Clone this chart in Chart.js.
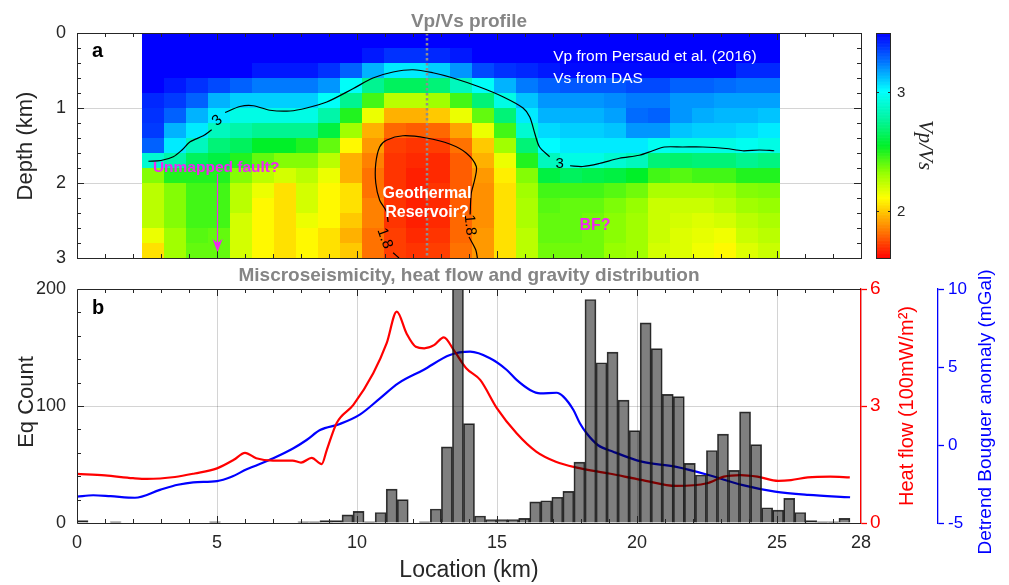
<!DOCTYPE html>
<html>
<head>
<meta charset="utf-8">
<script src="https://cdn.jsdelivr.net/npm/chart.js"></script>
<style>
body { margin: 0; background: #fff; }
#wrap { position: relative; width: 1009px; height: 585px; }
canvas { position: absolute; left: 0; top: 0; }
</style>
</head>
<body>
<div id="wrap">
<canvas id="perfil" width="1009" height="585"></canvas>
<canvas id="sismos" width="1009" height="585"></canvas>
</div>
<script>
// ---- panel a: Vp/Vs profile ----
const vpvsLoc = [2.71, 3.50, 4.29, 5.07, 5.86, 6.64, 7.43, 8.22, 9.00, 9.79, 10.58, 11.36, 12.15, 12.93, 13.72,
  14.51, 15.29, 16.08, 16.86, 17.65, 18.44, 19.22, 20.01, 20.79, 21.58, 22.37, 23.15, 23.94, 24.72]
const vpvsDepth = [0.1, 0.3, 0.5, 0.7, 0.9, 1.1, 1.3, 1.5, 1.7, 1.9, 2.1, 2.3, 2.5, 2.7, 2.9]
// one profile (top to bottom) per location
const vpvsColumns = [
  [3.5, 3.5, 3.5, 3.5, 3.42, 3.4, 3.38, 3.3, 2.9, 2.35, 2.25, 2.25, 2.25, 2.15, 2.05],
  [3.5, 3.5, 3.5, 3.45, 3.38, 3.3, 3.15, 3.05, 2.8, 2.5, 2.35, 2.35, 2.35, 2.3, 2.3],
  [3.5, 3.5, 3.5, 3.4, 3.3, 3.15, 3.05, 2.85, 2.65, 2.5, 2.45, 2.45, 2.45, 2.42, 2.4],
  [3.5, 3.5, 3.5, 3.35, 3.15, 3.05, 2.85, 2.7, 2.6, 2.5, 2.45, 2.45, 2.45, 2.4, 2.4],
  [3.5, 3.5, 3.5, 3.3, 3.1, 2.95, 2.8, 2.65, 2.5, 2.35, 2.25, 2.25, 2.2, 2.2, 2.2],
  [3.5, 3.5, 3.45, 3.25, 3.1, 2.95, 2.75, 2.55, 2.4, 2.25, 2.15, 2.1, 2.1, 2.1, 2.1],
  [3.5, 3.5, 3.45, 3.25, 3.1, 2.95, 2.75, 2.55, 2.35, 2.2, 2.05, 2.05, 2.05, 2.05, 2.05],
  [3.5, 3.5, 3.45, 3.25, 3.1, 2.95, 2.75, 2.5, 2.35, 2.25, 2.2, 2.2, 2.15, 2.1, 2.1],
  [3.5, 3.5, 3.4, 3.2, 3.0, 2.8, 2.6, 2.4, 2.25, 2.15, 2.1, 2.1, 2.1, 2.05, 2.05],
  [3.5, 3.5, 3.3, 3.0, 2.75, 2.5, 2.3, 2.1, 1.95, 1.95, 2.05, 2.05, 2.0, 1.95, 2.0],
  [3.5, 3.45, 3.15, 2.75, 2.45, 2.15, 1.95, 1.9, 1.85, 1.82, 1.82, 1.85, 1.85, 1.82, 1.82],
  [3.5, 3.4, 3.05, 2.65, 2.25, 1.95, 1.8, 1.72, 1.7, 1.7, 1.7, 1.7, 1.7, 1.72, 1.72],
  [3.5, 3.4, 3.05, 2.65, 2.25, 1.95, 1.78, 1.7, 1.68, 1.66, 1.66, 1.66, 1.66, 1.68, 1.7],
  [3.5, 3.42, 3.1, 2.7, 2.3, 2.0, 1.8, 1.72, 1.68, 1.68, 1.7, 1.68, 1.68, 1.7, 1.72],
  [3.5, 3.45, 3.2, 2.85, 2.45, 2.15, 1.92, 1.82, 1.78, 1.78, 1.78, 1.78, 1.8, 1.8, 1.82],
  [3.5, 3.5, 3.35, 3.0, 2.7, 2.4, 2.15, 2.0, 1.95, 1.9, 1.88, 1.88, 1.88, 1.9, 1.9],
  [3.5, 3.5, 3.4, 3.15, 2.95, 2.7, 2.45, 2.3, 2.15, 2.08, 2.05, 2.05, 2.05, 2.05, 2.05],
  [3.5, 3.5, 3.42, 3.25, 3.12, 3.05, 2.9, 2.7, 2.5, 2.35, 2.3, 2.28, 2.28, 2.25, 2.25],
  [3.5, 3.5, 3.45, 3.3, 3.2, 3.15, 3.08, 3.02, 2.85, 2.6, 2.45, 2.42, 2.4, 2.4, 2.38],
  [3.5, 3.5, 3.48, 3.32, 3.2, 3.15, 3.1, 3.05, 2.95, 2.65, 2.45, 2.4, 2.4, 2.4, 2.38],
  [3.5, 3.5, 3.48, 3.32, 3.2, 3.15, 3.1, 3.05, 2.95, 2.62, 2.45, 2.4, 2.38, 2.38, 2.38],
  [3.5, 3.5, 3.48, 3.32, 3.22, 3.18, 3.12, 3.05, 2.9, 2.6, 2.42, 2.36, 2.34, 2.34, 2.32],
  [3.5, 3.5, 3.48, 3.35, 3.25, 3.28, 3.2, 3.05, 2.85, 2.55, 2.38, 2.32, 2.3, 2.3, 2.3],
  [3.5, 3.5, 3.48, 3.35, 3.25, 3.3, 3.2, 2.98, 2.7, 2.45, 2.28, 2.22, 2.22, 2.22, 2.2],
  [3.5, 3.5, 3.48, 3.3, 3.2, 3.2, 3.12, 2.95, 2.68, 2.42, 2.28, 2.22, 2.2, 2.18, 2.18],
  [3.5, 3.5, 3.48, 3.3, 3.2, 3.16, 3.1, 2.95, 2.7, 2.45, 2.28, 2.22, 2.18, 2.16, 2.14],
  [3.5, 3.5, 3.48, 3.28, 3.18, 3.14, 3.1, 2.95, 2.7, 2.45, 2.3, 2.25, 2.2, 2.14, 2.1],
  [3.5, 3.5, 3.42, 3.26, 3.18, 3.14, 3.08, 2.98, 2.75, 2.5, 2.35, 2.3, 2.25, 2.22, 2.18],
  [3.5, 3.5, 3.42, 3.26, 3.18, 3.12, 3.05, 2.95, 2.72, 2.5, 2.36, 2.32, 2.28, 2.25, 2.22]
]
const vpvsMin = 1.6
const vpvsMax = 3.5
const vpvsTicks = [2, 3]

// contour lines (null = gap for the label)
const contour3Loc = [2.55, 3.0, 3.44, 3.75, 4.04, 4.51, 4.81, 5.0, 5.29, 5.82, 6.3, 6.89, 7.61, 8.2, 8.92, 9.87,
  10.57, 11.29, 12.0, 12.71, 13.43, 14.38, 15.21, 15.93, 16.17, 16.35, 16.52, 16.88, 17.24, 17.61, 18.06,
  18.65, 19.37, 20.08, 20.56, 20.98, 21.63, 22.35, 23.18, 23.77, 24.37, 24.9]
const contour3Depth = [1.71, 1.70, 1.65, 1.56, 1.45, 1.37, 1.29, null, 1.06, 0.98, 0.97, 1.03, 1.04, 1.0, 0.92, 0.74,
  0.60, 0.52, 0.49, 0.53, 0.60, 0.72, 0.85, 1.0, 1.12, 1.34, 1.52, 1.65, null, 1.77, 1.78,
  1.74, 1.67, 1.63, 1.57, 1.52, 1.52, 1.52, 1.54, 1.57, 1.56, 1.57]
const contour18Loc = [11.5, 11.29, 11.0, 11.11, 11.05, 10.81, 10.67, 10.67, 10.81, 11.05, 11.64, 12.48, 13.31,
  13.9, 14.26, 14.2, 14.08, 14.04, 14.03, 14.0, 14.24, 14.3]
const contour18Depth = [3.0, 2.93, null, 2.52, 2.38, 2.23, 2.0, 1.74, 1.52, 1.43, 1.37, 1.40, 1.48,
  1.60, 1.78, 1.96, 2.14, 2.42, null, 2.72, 2.89, 3.0]
const contourLabels = [
  { text: '3', loc: 5.01, depth: 1.17, rot: -40 },
  { text: '3', loc: 17.24, depth: 1.74, rot: 0 },
  { text: '1.8', loc: 10.99, depth: 2.74, rot: 70 },
  { text: '1.8', loc: 14.03, depth: 2.56, rot: 85 }
]
const wellLoc = 12.5
const faultLoc = 5.0
const faultTop = 1.88
const faultBottom = 2.92

// ---- panel b ----
const locTicks = [0, 5, 10, 15, 20, 25, 28]
const depthTicks = [0, 1, 2, 3]
const countTicks = [0, 100, 200]
const heatTicks = [0, 3, 6]
const gravTicks = [-5, 0, 5, 10]

const eqBinWidth = 28 / 71
const eqCounts = [2, 0, 0, 1, 0, 0, 0, 0, 0, 0, 0, 0, 1, 0, 0, 0, 0, 0, 0, 0, 1, 1, 2,
  2, 7, 10, 1, 9, 29, 20, 0, 1, 12, 65, 215, 85, 6, 3, 3, 3, 4, 18, 19, 22, 27,
  52, 191, 137, 146, 105, 79, 171, 149, 110, 108, 51, 41, 62, 76, 45, 95, 67, 13, 11, 21, 9, 2, 1, 1, 4, 0]

const hfLoc = [0, 1, 2, 2.5, 3.5, 4.2, 5.0, 5.6, 6.0, 6.4, 7.0, 7.7, 8.0, 8.38, 8.74, 8.92, 9.27, 9.87, 10.58, 11.06,
  11.42, 11.77, 12.1, 12.4, 12.75, 13.1, 13.45, 13.9, 14.4, 15.0, 15.7, 16.4, 17.1, 17.85, 19.0, 20.2, 21.4, 22.5, 23.1, 23.7,
  24.3, 25.05, 25.5, 26.1, 26.9, 27.6]
const hfVal = [1.26, 1.22, 1.15, 1.13, 1.18, 1.27, 1.40, 1.62, 1.80, 1.66, 1.60, 1.60, 1.55, 1.67, 1.51, 1.87, 2.56, 3.03, 3.84, 4.61,
  5.42, 4.86, 4.52, 4.48, 4.56, 4.76, 4.44, 3.97, 3.67, 2.94, 2.30, 1.83, 1.57, 1.42, 1.27, 1.10, 0.95, 1.02, 1.19, 1.23,
  1.19, 1.08, 1.10, 1.17, 1.19, 1.17]

const gLoc = [0, 0.58, 1.2, 2.07, 2.96, 3.6, 4.15, 5.0, 5.5, 6.06, 7.01, 7.73, 8.2, 8.68, 9.39, 10.1, 10.82, 11.47, 12.37, 13.32,
  14.04, 14.75, 15.35, 15.7, 16.18, 16.54, 17.13, 17.37, 17.73, 17.96, 18.2, 18.6, 19.15, 20.17, 21.36, 22.55, 23.74, 24.93, 26.12, 27.61]
const gVal = [-3.31, -3.22, -3.28, -3.38, -2.88, -2.55, -2.39, -2.31, -2.05, -1.56, -0.85, -0.21, 0.32, 0.96, 1.35, 1.95, 2.99, 3.95, 4.81, 5.77,
  5.98, 5.56, 4.81, 4.17, 3.53, 3.31, 3.35, 3.1, 2.24, 1.39, 0.75, 0.0, -0.43, -1.07, -1.39, -1.92, -2.56, -2.99, -3.2, -3.35]

// ---- helpers ----
Chart.defaults.font.family = "'Liberation Sans', Arial, sans-serif"
Chart.defaults.font.size = 18
Chart.defaults.color = '#262626'

const jetStops = [[0, 255, 0, 0], [0.13, 255, 128, 0], [0.27, 255, 255, 0], [0.38, 150, 255, 0], [0.5, 0, 240, 40],
  [0.62, 0, 245, 160], [0.745, 0, 255, 255], [0.87, 0, 120, 255], [1, 0, 0, 255]]

function colorVpVs(v) {
  let t = (v - vpvsMin) / (vpvsMax - vpvsMin)
  t = Math.max(0, Math.min(1, t))
  for (let i = 1; i < jetStops.length; i++) {
    if (t <= jetStops[i][0]) {
      const a = jetStops[i - 1], b = jetStops[i]
      const f = (t - a[0]) / (b[0] - a[0])
      const c = [1, 2, 3].map(k => Math.round(a[k] + (b[k] - a[k]) * f))
      return `rgb(${c[0]},${c[1]},${c[2]})`
    }
  }
  return 'rgb(0,0,255)'
}

function texto(ctx, str, x, y, font, color, align, base, rot) {
  ctx.save()
  ctx.translate(x, y)
  if (rot) ctx.rotate(rot * Math.PI / 180)
  ctx.font = font
  ctx.fillStyle = color
  ctx.textAlign = align || 'center'
  ctx.textBaseline = base || 'alphabetic'
  ctx.fillText(str, 0, 0)
  ctx.restore()
}

function linea(ctx, x0, y0, x1, y1) {
  ctx.beginPath()
  ctx.moveTo(x0, y0)
  ctx.lineTo(x1, y1)
  ctx.stroke()
}

function ticksLoc(ctx, x, a) {
  for (let v = 1; v < 28; v++) {
    const p = Math.round(x.getPixelForValue(v)) + 0.5
    const len = v % 5 === 0 ? 7 : 4
    linea(ctx, p, a.bottom, p, a.bottom - len)
    linea(ctx, p, a.top, p, a.top + len)
  }
}

function fixedTicks(list) {
  return s => { s.ticks = list.map(v => ({ value: v })) }
}

const gridColor = 'rgba(0,0,0,0.17)'
const magenta = '#f028f0'
const grayTitle = '#858585'

// ---- chart a ----
const heatmap = {
  id: 'heatmap',
  beforeDatasetsDraw(chart) {
    const { ctx, chartArea: a, scales: { x, y } } = chart
    ctx.save()
    ctx.beginPath()
    ctx.rect(a.left, a.top, a.width, a.height)
    ctx.clip()
    const n = vpvsLoc.length, m = vpvsDepth.length
    for (let i = 0; i < n; i++) {
      const hl = i > 0 ? (vpvsLoc[i] - vpvsLoc[i - 1]) / 2 : (vpvsLoc[1] - vpvsLoc[0]) / 2
      const hr = i < n - 1 ? (vpvsLoc[i + 1] - vpvsLoc[i]) / 2 : hl
      const x0 = Math.round(x.getPixelForValue(vpvsLoc[i] - hl))
      const x1 = Math.round(x.getPixelForValue(vpvsLoc[i] + hr))
      for (let j = 0; j < m; j++) {
        const ht = j > 0 ? (vpvsDepth[j] - vpvsDepth[j - 1]) / 2 : (vpvsDepth[1] - vpvsDepth[0]) / 2
        const hb = j < m - 1 ? (vpvsDepth[j + 1] - vpvsDepth[j]) / 2 : ht
        const y0 = Math.round(y.getPixelForValue(vpvsDepth[j] - ht))
        const y1 = Math.round(y.getPixelForValue(vpvsDepth[j] + hb))
        ctx.fillStyle = colorVpVs(vpvsColumns[i][j])
        ctx.fillRect(x0, Math.min(y0, y1), x1 - x0, Math.abs(y1 - y0))
      }
    }
    ctx.restore()
  }
}

const perfilDeco = {
  id: 'perfilDeco',
  afterDraw(chart) {
    const { ctx, chartArea: a, scales: { x, y, cb } } = chart
    ctx.save()
    // colorbar
    const cbL = 876, cbR = 891
    for (let v = vpvsMin; v < vpvsMax - 0.001; v += 0.005) {
      const y0 = cb.getPixelForValue(v + 0.005), y1 = cb.getPixelForValue(v)
      ctx.fillStyle = colorVpVs(v + 0.0025)
      ctx.fillRect(cbL, y0, cbR - cbL, y1 - y0 + 0.6)
    }
    ctx.strokeStyle = '#262626'
    ctx.lineWidth = 1
    ctx.strokeRect(cbL + 0.5, Math.round(a.top) + 0.5, cbR - cbL - 1, Math.round(a.height))
    vpvsTicks.forEach(v => {
      const p = Math.round(cb.getPixelForValue(v)) + 0.5
      linea(ctx, cbL, p, cbL + 3, p)
      linea(ctx, cbR, p, cbR - 3, p)
      texto(ctx, String(v), 897, p, '15px "Liberation Sans"', '#262626', 'left', 'middle')
    })
    // box and ticks
    ctx.strokeRect(Math.round(a.left) + 0.5, Math.round(a.top) + 0.5, Math.round(a.width), Math.round(a.height))
    ticksLoc(ctx, x, a)
    for (let k = 1; k < 15; k++) {
      const p = Math.round(y.getPixelForValue(k * 0.2)) + 0.5
      const len = k % 5 === 0 ? 7 : 4
      linea(ctx, a.left, p, a.left + len, p)
      linea(ctx, a.right, p, a.right - len, p)
    }
    // fault arrow
    const fx = Math.round(x.getPixelForValue(faultLoc)) + 0.5
    const fy0 = y.getPixelForValue(faultTop), fy1 = y.getPixelForValue(faultBottom)
    ctx.strokeStyle = magenta
    ctx.fillStyle = magenta
    ctx.lineWidth = 1.2
    linea(ctx, fx, fy0, fx, fy1 - 8)
    ctx.beginPath()
    ctx.moveTo(fx, fy1)
    ctx.lineTo(fx - 5, fy1 - 13)
    ctx.lineTo(fx, fy1 - 9)
    ctx.lineTo(fx + 5, fy1 - 13)
    ctx.closePath()
    ctx.fill()
    // contour labels
    contourLabels.forEach(l => {
      texto(ctx, l.text, x.getPixelForValue(l.loc), y.getPixelForValue(l.depth), '15px "Liberation Sans"', '#000', 'center', 'middle', l.rot)
    })
    // annotations
    texto(ctx, 'Unmapped fault?', x.getPixelForValue(2.71), 172, 'bold 15.5px "Liberation Sans"', magenta, 'left')
    texto(ctx, 'Geothermal', x.getPixelForValue(12.5), 198, 'bold 16px "Liberation Sans"', '#fff')
    texto(ctx, 'Reservoir?', x.getPixelForValue(12.5), 217, 'bold 16px "Liberation Sans"', '#fff')
    texto(ctx, 'BF?', x.getPixelForValue(18.5), 230, 'bold 16px "Liberation Sans"', magenta)
    texto(ctx, 'Vp from Persaud et al. (2016)', x.getPixelForValue(17.01), 61, '15.5px "Liberation Sans"', '#fff', 'left')
    texto(ctx, 'Vs from DAS', x.getPixelForValue(17.01), 83, '15.5px "Liberation Sans"', '#fff', 'left')
    // titles
    texto(ctx, 'Vp/Vs profile', (a.left + a.right) / 2, 27, 'bold 19px "Liberation Sans"', grayTitle)
    texto(ctx, 'a', 92, 57, 'bold 20px "Liberation Sans"', '#000', 'left')
    texto(ctx, 'Depth (km)', 26, 146, '22px "Liberation Sans"', '#262626', 'center', 'middle', -90)
    texto(ctx, 'Vp/Vs', 925, 145, 'italic 21px "Liberation Serif"', '#262626', 'center', 'middle', 90)
    ctx.restore()
  }
}

const contourStyle = { borderColor: '#000', borderWidth: 1.2, pointRadius: 0, tension: 0.3, spanGaps: false }

new Chart(document.getElementById('perfil'), {
  type: 'line',
  data: {
    datasets: [
      Object.assign({ data: contour3Loc.map((v, i) => ({ x: v, y: contour3Depth[i] })) }, contourStyle),
      Object.assign({ data: contour18Loc.map((v, i) => ({ x: v, y: contour18Depth[i] })) }, contourStyle),
      {
        data: [{ x: wellLoc, y: 0 }, { x: wellLoc, y: 3 }],
        borderColor: '#8e8e8e', borderWidth: 2.5, borderDash: [2.5, 2.5], pointRadius: 0
      }
    ]
  },
  options: {
    responsive: false,
    animation: false,
    devicePixelRatio: 1,
    layout: { padding: { top: 33, bottom: 327, left: 0, right: 0 } },
    plugins: { legend: { display: false }, tooltip: { enabled: false } },
    scales: {
      x: {
        type: 'linear', min: 0, max: 28, z: 1,
        afterBuildTicks: fixedTicks(locTicks),
        afterFit: s => { s.height = 0 },
        ticks: { display: false },
        grid: { color: gridColor, drawTicks: false },
        border: { display: false }
      },
      y: {
        type: 'linear', reverse: true, min: 0, max: 3, z: 1,
        afterBuildTicks: fixedTicks(depthTicks),
        afterFit: s => { s.width = 77 },
        ticks: { padding: 11 },
        grid: { color: gridColor, drawTicks: false },
        border: { display: false }
      },
      cb: {
        type: 'linear', position: 'right', min: vpvsMin, max: vpvsMax,
        afterBuildTicks: fixedTicks(vpvsTicks),
        afterFit: s => { s.width = 148 },
        ticks: { display: false },
        grid: { drawOnChartArea: false, drawTicks: false },
        border: { display: false }
      }
    }
  },
  plugins: [heatmap, perfilDeco]
})

// ---- chart b ----
const sismosDeco = {
  id: 'sismosDeco',
  afterDraw(chart) {
    const { ctx, chartArea: a, scales: { x, y } } = chart
    ctx.save()
    ctx.strokeStyle = '#262626'
    ctx.lineWidth = 1
    const L = Math.round(a.left) + 0.5, T = Math.round(a.top) + 0.5, B = Math.round(a.bottom) + 0.5
    linea(ctx, L, T, a.right, T)
    linea(ctx, L, B, a.right, B)
    linea(ctx, L, T, L, B)
    ticksLoc(ctx, x, a)
    for (let k = 1; k < 10; k++) {
      const p = Math.round(y.getPixelForValue(k * 20)) + 0.5
      const len = k % 5 === 0 ? 7 : 4
      linea(ctx, a.left, p, a.left + len, p)
    }
    texto(ctx, 'Miscroseismicity, heat flow and gravity distribution', (a.left + a.right) / 2, 281, 'bold 19px "Liberation Sans"', grayTitle)
    texto(ctx, 'b', 92, 314, 'bold 20px "Liberation Sans"', '#000', 'left')
    texto(ctx, 'Eq Count', 27, 402, '22px "Liberation Sans"', '#262626', 'center', 'middle', -90)
    texto(ctx, 'Location (km)', (a.left + a.right) / 2, 577, '23px "Liberation Sans"', '#262626')
    texto(ctx, 'Heat flow (100mW/m²)', 907, 406, '20px "Liberation Sans"', '#ff0000', 'center', 'middle', -90)
    texto(ctx, 'Detrend Bouguer anomaly (mGal)', 986, 412, '19px "Liberation Sans"', '#0000ff', 'center', 'middle', -90)
    ctx.restore()
  }
}

new Chart(document.getElementById('sismos'), {
  type: 'bar',
  data: {
    datasets: [
      {
        type: 'bar',
        data: eqCounts.map((c, k) => ({ x: (k + 0.5) * eqBinWidth, y: c })),
        yAxisID: 'y',
        backgroundColor: 'rgba(0,0,0,0.5)',
        borderColor: 'rgba(20,20,20,0.85)',
        borderWidth: 1,
        barPercentage: 1,
        categoryPercentage: 1,
        order: 0
      },
      {
        type: 'line',
        data: hfLoc.map((v, i) => ({ x: v, y: hfVal[i] })),
        yAxisID: 'yHF',
        borderColor: '#ff0000',
        borderWidth: 2.2,
        pointRadius: 0,
        cubicInterpolationMode: 'monotone',
        order: 1
      },
      {
        type: 'line',
        data: gLoc.map((v, i) => ({ x: v, y: gVal[i] })),
        yAxisID: 'yG',
        borderColor: '#0000ff',
        borderWidth: 2.2,
        pointRadius: 0,
        cubicInterpolationMode: 'monotone',
        order: 2
      }
    ]
  },
  options: {
    responsive: false,
    animation: false,
    devicePixelRatio: 1,
    layout: { padding: { top: 289, bottom: 0, left: 0, right: 0 } },
    plugins: { legend: { display: false }, tooltip: { enabled: false } },
    scales: {
      x: {
        type: 'linear', min: 0, max: 28, offset: false, z: 1,
        afterBuildTicks: fixedTicks(locTicks),
        afterFit: s => { s.height = 62 },
        ticks: { padding: 9, maxRotation: 0, autoSkip: false },
        grid: { color: gridColor, drawTicks: false, offset: false },
        border: { display: false }
      },
      y: {
        type: 'linear', position: 'left', min: 0, max: 200, z: 1,
        afterBuildTicks: fixedTicks(countTicks),
        afterFit: s => { s.width = 77 },
        ticks: { padding: 11 },
        grid: { color: gridColor, drawTicks: false },
        border: { display: false }
      },
      yHF: {
        type: 'linear', position: 'right', min: 0, max: 6, weight: 0,
        afterBuildTicks: fixedTicks(heatTicks),
        afterFit: s => { s.width = 77 },
        ticks: { color: '#ff0000', padding: 3, font: { size: 19 } },
        grid: { drawOnChartArea: false, drawTicks: true, tickLength: 6, color: '#ff0000', tickWidth: 1.3 },
        border: { display: true, color: '#ff0000', width: 1.3 }
      },
      yG: {
        type: 'linear', position: 'right', min: -5, max: 10, weight: 1,
        afterBuildTicks: fixedTicks(gravTicks),
        afterFit: s => { s.width = 71 },
        ticks: { color: '#0000ff', padding: 4, font: { size: 17 } },
        grid: { drawOnChartArea: false, drawTicks: true, tickLength: 6, color: '#0000ff', tickWidth: 1.3 },
        border: { display: true, color: '#0000ff', width: 1.3 }
      }
    }
  },
  plugins: [sismosDeco]
})
</script>
</body>
</html>
